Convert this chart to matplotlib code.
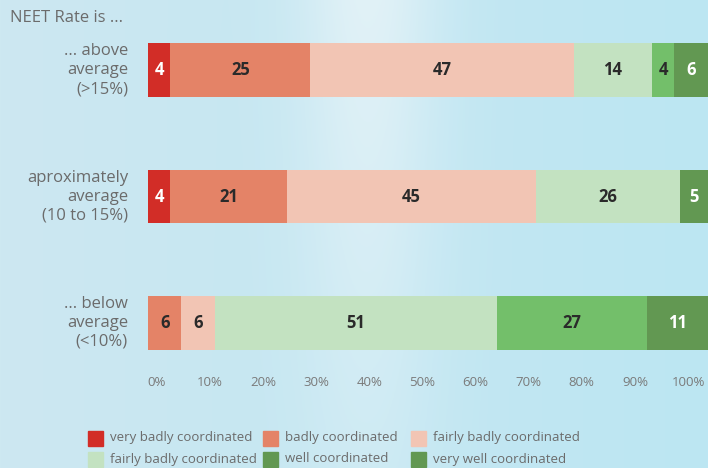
import numpy as np
import matplotlib
matplotlib.use("Agg")
import matplotlib.pyplot as plt
from matplotlib.patches import Rectangle

plt.rcParams['font.family'] = ['Open Sans', 'DejaVu Sans']

categories = ["... above\naverage\n(>15%)", "aproximately\naverage\n(10 to 15%)", "... below\naverage\n(<10%)"]
series_names = ["very badly coordinated", "badly coordinated", "fairly badly coordinated",
                "fairly badly coordinated", "well coordinated", "very well coordinated"]
very_badly = [4, 4, 0]
badly = [25, 21, 6]
fairly_badly = [47, 45, 6]
fairly_well = [14, 26, 51]
well = [4, 0, 27]
very_well = [6, 5, 11]
tick_labels = ["0%", "10%", "20%", "30%", "40%", "50%", "60%", "70%", "80%", "90%", "100%"]

series = [very_badly, badly, fairly_badly, fairly_well, well, very_well]
colors = ["#d22d27", "#e48367", "#f2c5b4", "#c3e2c1", "#73bf6a", "#629852"]
legend_colors = ["#d22d27", "#e48367", "#f2c5b4", "#c3e2c1", "#629852", "#629852"]
text_colors = ["white", "#2a2a2a", "#2a2a2a", "#2a2a2a", "#2a2a2a", "white"]

W, H = 708, 468
fig = plt.figure(figsize=(W / 100, H / 100), dpi=100)

# background gradient
bg = fig.add_axes([0, 0, 1, 1], zorder=-10)
xs = np.linspace(0, 1, 300)
ys = np.linspace(0, 1, 200)
X, Y = np.meshgrid(xs, ys)
c_left = np.array([205, 232, 241]) / 255
c_right = np.array([188, 230, 243]) / 255
c_light = np.array([232, 244, 248]) / 255
t = X[..., None]
base = c_left * (1 - t) + c_right * t
band = np.exp(-((X - 0.52) ** 2) / (2 * 0.07 ** 2)) * (0.35 + 0.65 * (1 - Y))
img = base * (1 - band[..., None] * 0.8) + c_light * band[..., None] * 0.8
bg.imshow(img, extent=[0, 1, 0, 1], aspect='auto', origin='upper')
bg.set_xlim(0, 1)
bg.set_ylim(0, 1)
bg.axis('off')

# main bars
ax = fig.add_axes([148 / W, 1 - 350 / H, 1 - 148 / W, 307 / H])
ax.patch.set_alpha(0)
ypos = np.arange(len(categories))
totals = np.sum(np.array(series), axis=0)
left = np.zeros(len(categories))
for vals, col, tc in zip(series, colors, text_colors):
    vals = np.array(vals, dtype=float)
    widths = vals / totals * 100
    ax.barh(ypos, widths, left=left, height=0.425, color=col, edgecolor='none')
    for i, (v, w, l) in enumerate(zip(vals, widths, left)):
        if v > 0:
            ax.text(l + w / 2, ypos[i], f"{int(v)}", ha='center', va='center',
                    fontsize=12, fontweight='bold', color=tc)
    left += widths
ax.set_xlim(0, 100)
ax.set_ylim(2 + 0.2126, -0.2126)
ax.axis('off')

# category labels
for i, cat in enumerate(categories):
    yc = [70, 197, 323][i]
    fig.text(128 / W, 1 - yc / H, cat, ha='right', va='center', fontsize=12,
             color='#6b6b6b', linespacing=1.25)
fig.text(10 / W, 1 - 18 / H, "NEET Rate is ...", ha='left', va='center', fontsize=12, color='#6b6b6b')

# tick axis
ax2 = fig.add_axes([157 / W, 1 - 372 / H, (688 - 157) / W, 0.001])
ax2.patch.set_alpha(0)
ax2.set_xlim(0, 100)
ax2.set_xticks(np.arange(0, 101, 10))
ax2.set_xticklabels(tick_labels, fontsize=9.5, color='#7a7a7a')
ax2.tick_params(length=0, pad=3)
ax2.set_yticks([])
for s in ax2.spines.values():
    s.set_visible(False)

# legend
col_x = [88, 263, 411]
row_y = [438, 459]
order = [0, 1, 2, 3, 4, 5]
for k in order:
    r, c = divmod(k, 3)
    x0 = col_x[c]
    y0 = row_y[r]
    fig.patches.append(Rectangle((x0 / W, 1 - (y0 + 8) / H), 15 / W, 15 / H,
                                 transform=fig.transFigure, color=legend_colors[k]))
    fig.text((x0 + 22) / W, 1 - y0 / H, series_names[k], ha='left', va='center',
             fontsize=9.5, color='#6b6b6b')

fig.savefig("out.png", dpi=100)
